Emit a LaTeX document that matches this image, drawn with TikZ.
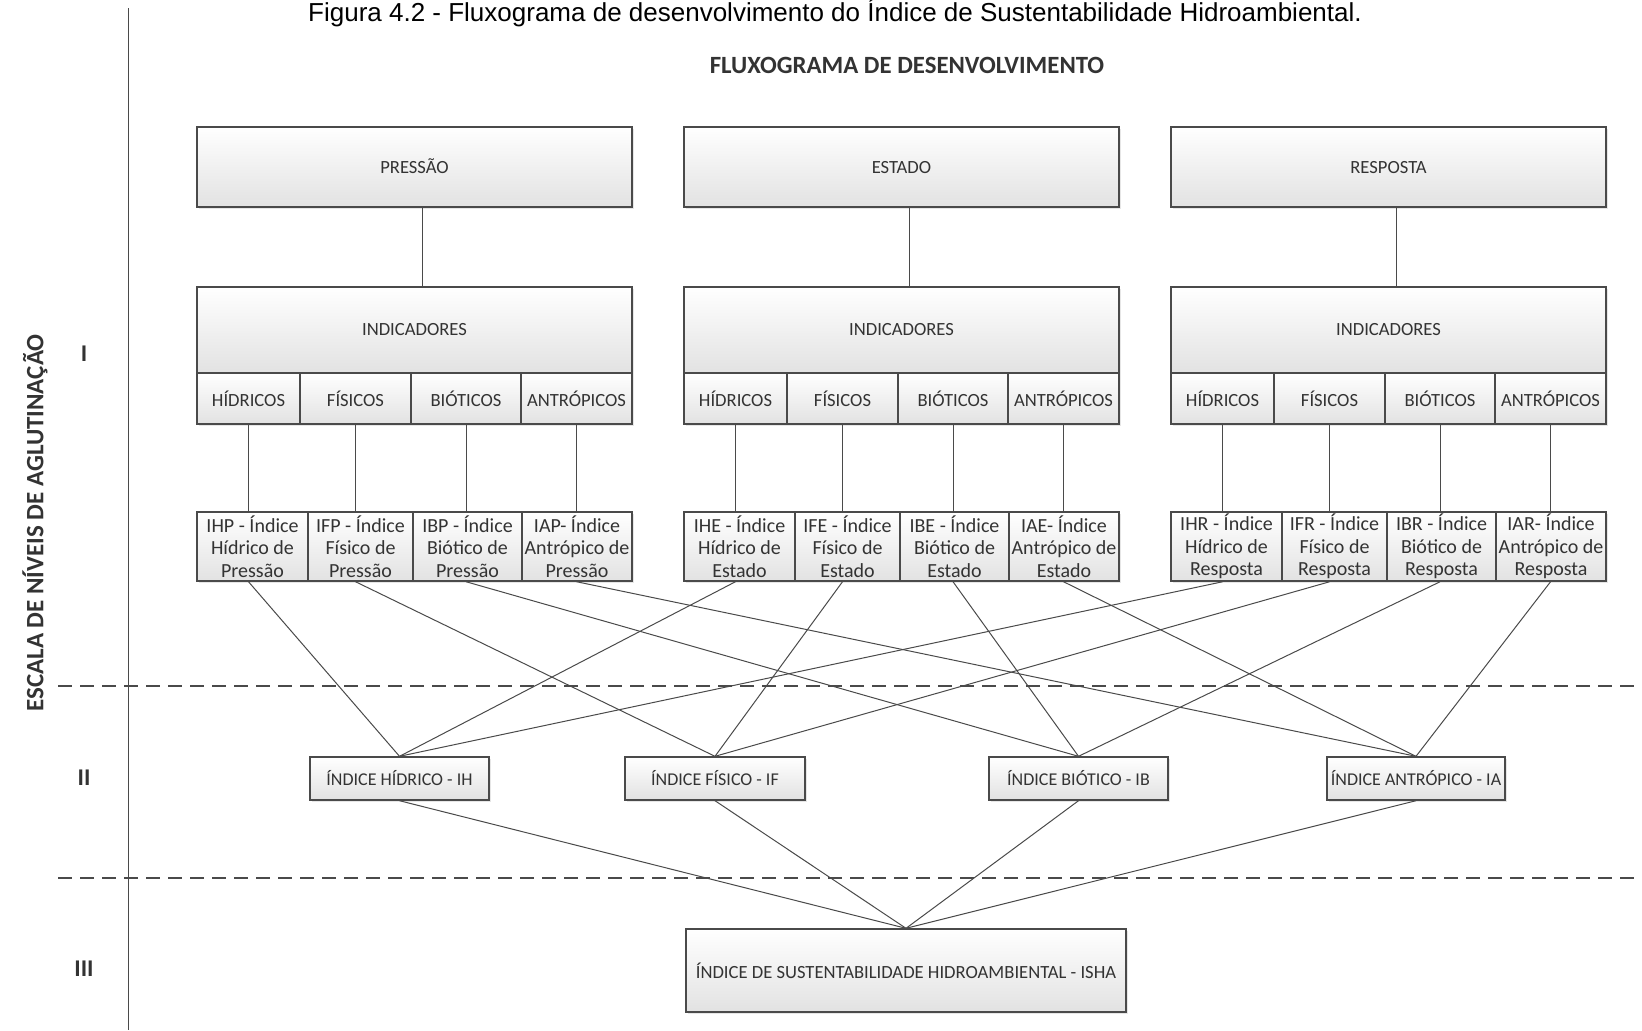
\documentclass[tikz,border=0pt]{standalone}
\usepackage{fontspec}
\setmainfont{Carlito}
\newfontfamily\capfont{Liberation Sans}
\usetikzlibrary{shadows}
\definecolor{linec}{HTML}{4A4A4A}
\definecolor{textc}{HTML}{333333}
\definecolor{shadec}{HTML}{E2E2E2}
\tikzset{
  bx/.style={draw=linec, line width=0.7pt, top color=white, bottom color=shadec,
             text=textc, font=\fontsize{9.3}{11}\selectfont, align=center, inner sep=1pt,
             drop shadow={shadow xshift=0.8pt, shadow yshift=-0.8pt, opacity=0.2}},
  idx/.style={bx, font=\fontsize{10}{11.3}\selectfont},
  ln/.style={draw=linec, line width=0.5pt},
  dsh/.style={draw=linec, line width=0.7pt, dash pattern=on 7pt off 4pt},
  lvl/.style={font=\bfseries\fontsize{12}{14}\selectfont, text=textc},
}
\begin{document}
\begin{tikzpicture}[x=0.5pt, y=-0.5pt]
\useasboundingbox (0,0) rectangle (1642,1030);
\node[font=\capfont\fontsize{13}{15}\selectfont, anchor=base] (cap) at (835,21) {Figura 4.2 - Fluxograma de desenvolvimento do Índice de Sustentabilidade Hidroambiental.};
\node[font=\bfseries\fontsize{12.4}{14}\selectfont, text=textc] (tit) at (907,65) {FLUXOGRAMA DE DESENVOLVIMENTO};
% escala
\draw[ln] (128,8) -- (128,1030);
\node[lvl, font=\bfseries\fontsize{12.5}{14}\selectfont, rotate=90] (esc) at (35,523) {ESCALA DE NÍVEIS DE AGLUTINAÇÃO};
\node[lvl] (n1) at (84,354) {I};
\node[lvl] (n2) at (84,778) {II};
\node[lvl] (n3) at (84,969) {III};
\draw[dsh] (58,686) -- (1642,686); \draw[dsh] (58,878) -- (1642,878);
% nivel II e III
\node[bx, font=\fontsize{9}{11}\selectfont, minimum width=89.5pt, minimum height=21.5pt] (L1) at (399.5,778.5) {ÍNDICE HÍDRICO - IH};
\node[bx, font=\fontsize{9}{11}\selectfont, minimum width=90pt, minimum height=21.5pt] (L2) at (715,778.5) {ÍNDICE FÍSICO - IF};
\node[bx, font=\fontsize{9}{11}\selectfont, minimum width=89.5pt, minimum height=21.5pt] (L3) at (1078.5,778.5) {ÍNDICE BIÓTICO - IB};
\node[bx, font=\fontsize{9}{11}\selectfont, minimum width=89pt, minimum height=21.5pt] (L4) at (1416,778.5) {ÍNDICE ANTRÓPICO - IA};
\node[bx, minimum width=220pt, minimum height=41.5pt] (isha) at (906,970.5) {ÍNDICE DE SUSTENTABILIDADE HIDROAMBIENTAL - ISHA};
\foreach \kk in {1,...,4} \draw[ln] (L\kk.south) -- (isha.north);
% nivel I
\foreach \grp/\gx/\lt/\nm/\wrd in {p/197/P/PRESSÃO/Pressão, e/684/E/ESTADO/Estado, r/1171/R/RESPOSTA/Resposta}{
  \node[bx, minimum width=217.5pt, minimum height=40pt, text height=7pt, text depth=1pt] (\grp Top) at (\gx+217.5,167) {\nm};
  \node[bx, minimum width=217.5pt, minimum height=43pt] (\grp Ind) at (\gx+217.5,330) {INDICADORES};
  \draw[ln] ([xshift=4pt]\grp Top.south) -- ([xshift=4pt]\grp Ind.north);
  \foreach \kk/\xa/\xb/\tx in {1/0/103/HÍDRICOS, 2/103/214/FÍSICOS, 3/214/324/BIÓTICOS, 4/324/435/ANTRÓPICOS}
    \node[bx, minimum width={(\xb-\xa)/2*1pt}, minimum height=25.5pt] (\grp S\kk) at ({\gx+(\xa+\xb)/2},398.5) {\tx};
  \foreach \kk/\xa/\xb/\ci/\sp/\adj in {1/0/111/H/\space/Hídrico, 2/111/216/F/\space/Físico, 3/216/325/B/\space/Biótico, 4/325/435/A//Antrópico}
    \node[idx, minimum width={(\xb-\xa)/2*1pt}, minimum height=34.5pt] (\grp I\kk) at ({\gx+(\xa+\xb)/2},546.5) {I\ci\lt\sp- Índice\\\adj{} de\\\wrd};
  \foreach \kk in {1,...,4}{
    \draw[ln] (\grp S\kk.south) -- (\grp S\kk.south |- \grp I\kk.north);
    \draw[ln] (\grp S\kk.south |- \grp I\kk.south) -- (L\kk.north);
  }
}
\end{tikzpicture}
\end{document}
